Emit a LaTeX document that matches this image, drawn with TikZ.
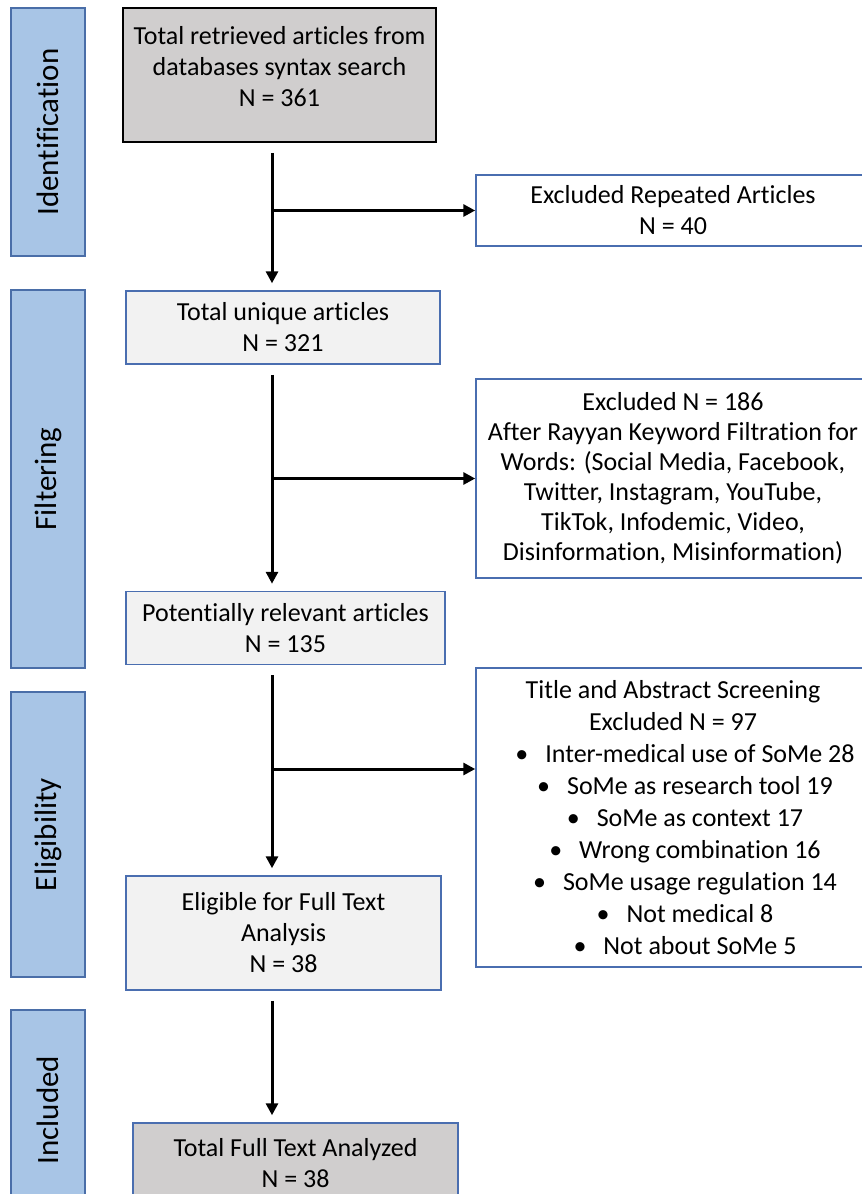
\documentclass[tikz,border=0pt]{standalone}
\usepackage{fontspec}
\setmainfont{Carlito}[Ligatures=NoCommon]
\usetikzlibrary{arrows.meta}

\definecolor{stagefill}{HTML}{A8C5E6}
\definecolor{stageline}{HTML}{4A6EA8}
\definecolor{boxline}{HTML}{4A6EB0}
\definecolor{darkgray}{HTML}{D0CECE}
\definecolor{lightgray}{HTML}{F2F2F2}

\newcommand{\exitem}[1]{\hspace*{24pt}\textbullet\hspace{17pt}#1}

\tikzset{
  stage/.style={draw=stageline, fill=stagefill, line width=1.5pt, rotate=90,
    minimum height=74pt, inner sep=0pt, font=\fontsize{31}{34}\selectfont},
  mainbox/.style={draw=boxline, fill=lightgray, line width=1.5pt, inner sep=0pt,
    align=center, font=\fontsize{26}{31}\selectfont},
  exbox/.style={draw=boxline, fill=white, line width=1.5pt, inner sep=0pt,
    align=center, minimum width=394pt, font=\fontsize{26}{31}\selectfont},
  flow/.style={line width=3pt, -{Triangle[length=12pt,width=12pt]}},
  down/.style={flow, shorten <=10pt, shorten >=7pt}
}

\begin{document}
\begin{tikzpicture}[x=1pt,y=-1pt]
\useasboundingbox (0,0) rectangle (862,1194);
\clip (0,0) rectangle (862,1194);

% stages
\node[stage, minimum width=248pt] (sId) at (48,132) {Identification};
\node[stage, minimum width=378pt] (sFi) at (48,479) {Filtering};
\node[stage, minimum width=285pt] (sEl) at (48,834.5) {Eligibility};
\node[stage, minimum width=200pt] (sIn) at (48,1110) {Included};

% main column
\node[mainbox, draw=black, fill=darkgray, minimum width=313pt, minimum height=134pt] (B1) at (279.5,75)
  {Total retrieved articles from\\databases syntax search\\N = 361\\[-13pt]};
\node[mainbox, minimum width=314pt, minimum height=73pt] (B2) at (283,327.5)
  {Total unique articles\\N = 321};
\node[mainbox, minimum width=319pt, minimum height=73pt] (B3) at (285.5,628)
  {Potentially relevant articles\\N = 135};
\node[mainbox, minimum width=315pt, minimum height=114pt] (B4) at (283.5,933)
  {Eligible for Full Text\\Analysis\\N = 38};
\node[mainbox, fill=darkgray, minimum width=325pt, minimum height=80pt] (B5) at (295.5,1163)
  {Total Full Text Analyzed\\N = 38};

% exclusions
\node[exbox, minimum height=71pt] (E1) at (673,210.5)
  {Excluded Repeated Articles\\N = 40};
\node[exbox, minimum height=199pt, font=\fontsize{26}{30}\selectfont] (E2) at (673,478.5)
  {Excluded N = 186\\After Rayyan Keyword Filtration for\\Words: (Social Media, Facebook,\\
   Twitter, Instagram, YouTube,\\TikTok, Infodemic, Video,\\Disinformation, Misinformation)};
\node[exbox, minimum height=299pt, font=\fontsize{26}{32}\selectfont] (E3) at (673,817.5)
  {Title and Abstract Screening\\Excluded N = 97\\
   \exitem{Inter-medical use of SoMe 28}\\
   \exitem{SoMe as research tool 19}\\
   \exitem{SoMe as context 17}\\
   \exitem{Wrong combination 16}\\
   \exitem{SoMe usage regulation 14}\\
   \exitem{Not medical 8}\\
   \exitem{Not about SoMe 5}};

% arrows
\coordinate (trunk) at (272,0);
\coordinate (b3) at (272,769);
\draw[down] (B1.south -| trunk) -- (B2.north -| trunk);
\draw[down] (B2.south -| trunk) -- (B3.north -| trunk);
\draw[down] (B3.south -| trunk) -- (B4.north -| trunk);
\draw[down] (B4.south -| trunk) -- (B5.north -| trunk);
\draw[flow] (trunk |- E1.west) -- (E1.west);
\draw[flow] (trunk |- E2.west) -- (E2.west);
\draw[flow] (b3) -- (b3 -| E3.west);
\end{tikzpicture}
\end{document}
